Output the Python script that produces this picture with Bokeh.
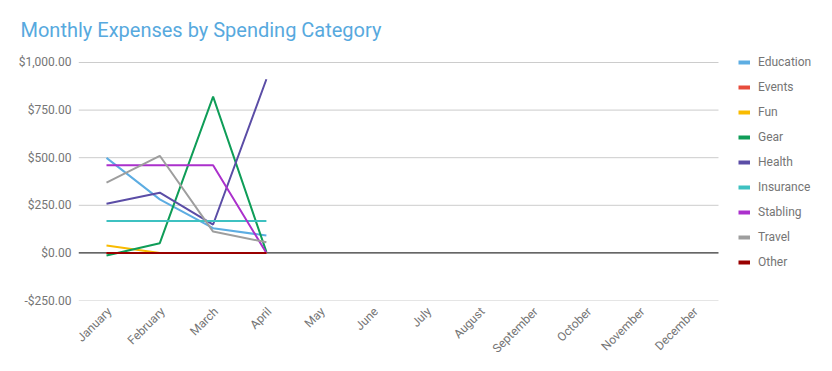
from bokeh.plotting import figure
from bokeh.models import Range1d, FixedTicker, Legend, LegendItem, LinearAxis
from bokeh.embed import file_html
from bokeh.resources import INLINE

months = ["January", "February", "March", "April", "May", "June", "July",
          "August", "September", "October", "November", "December"]
y_ticks = [-250, 0, 250, 500, 750, 1000]
y_tick_labels = ["-$250.00", "$0.00", "$250.00", "$500.00", "$750.00", "$1,000.00"]

categories = ["Education", "Events", "Fun", "Gear", "Health", "Insurance",
              "Stabling", "Travel", "Other"]
colors = ["#5DADE2", "#E74C3C", "#F9BB00", "#0F9D58", "#5B4DA6", "#3EC1C1",
          "#AB30CC", "#9E9E9E", "#990000"]

education = [499, 281, 130, 91]
events = [0, 0, 0, 0]
fun = [39, 0, 0, 0]
gear = [-14, 51, 821, 5]
health = [258, 316, 149, 912]
insurance = [167, 167, 167, 167]
stabling = [460, 460, 460, 0]
travel = [369, 510, 112, 56]
other = [0, 0, 0, 0]
series = [education, events, fun, gear, health, insurance, stabling, travel, other]

FONT = "Roboto"
GRAY = "#757575"

X0, X1, XEND = -0.5253, 11.482, 13.621   # frame start, gridline end, frame end
LABEL_SHIFT = 0.0563                      # nudges rotated month labels right

p = figure(width=832, height=371, output_backend="svg", toolbar_location=None,
           x_range=Range1d(X0, XEND), y_range=Range1d(-250, 1063),
           x_axis_location=None,
           min_border_left=78, min_border_right=0, min_border_top=50,
           min_border_bottom=71)
p.extra_x_ranges = {"lab": Range1d(X0 - LABEL_SHIFT, XEND - LABEL_SHIFT)}
xaxis = LinearAxis(x_range_name="lab")
p.add_layout(xaxis, "below")

p.outline_line_color = None
p.title.text = "Monthly Expenses by Spending Category"
p.title.text_font = FONT
p.title.text_font_size = "20px"
p.title.text_font_style = "normal"
p.title.text_color = "#57A9DE"
p.title.align = "left"
p.title.offset = -58
p.title.standoff = 17

p.xgrid.visible = False
p.ygrid.visible = False

grid_vals = [t for t in y_ticks if t != 0]
p.segment(x0=[X0] * len(grid_vals), x1=[X1] * len(grid_vals), y0=grid_vals, y1=grid_vals,
          line_color="#CCCCCC", line_width=1)
p.segment(x0=[X0], x1=[X1], y0=[0], y1=[0], line_color="#333333", line_width=1.2)

p.yaxis.ticker = FixedTicker(ticks=y_ticks)
p.yaxis.major_label_overrides = {t: l for t, l in zip(y_ticks, y_tick_labels)}
xaxis.ticker = FixedTicker(ticks=list(range(len(months))))
xaxis.major_label_overrides = {i: m for i, m in enumerate(months)}
xaxis.major_label_orientation = 0.785398
for ax in (xaxis, p.yaxis[0]):
    ax.axis_line_color = None
    ax.major_tick_line_color = None
    ax.minor_tick_line_color = None
    ax.major_label_text_font = FONT
    ax.major_label_text_font_size = "12px"
    ax.major_label_text_color = GRAY
p.yaxis.major_label_standoff = 1
xaxis.major_label_standoff = 3

x = list(range(4))
items = []
for name, col, vals in zip(categories, colors, series):
    p.line(x, vals, line_color=col, line_width=2)
    dummy = p.line([float("nan")], [float("nan")], line_color=col, line_width=4)
    items.append(LegendItem(label=name, renderers=[dummy]))

legend = Legend(items=items, location=(660, 31), orientation="vertical",
                glyph_width=12, glyph_height=12, label_height=12, spacing=11,
                label_standoff=8, padding=0, margin=0, border_line_color=None,
                background_fill_alpha=0, label_text_font=FONT,
                label_text_font_size="12px", label_text_color=GRAY)
p.add_layout(legend, "center")

open("out.html", "w").write(file_html(p, INLINE))
